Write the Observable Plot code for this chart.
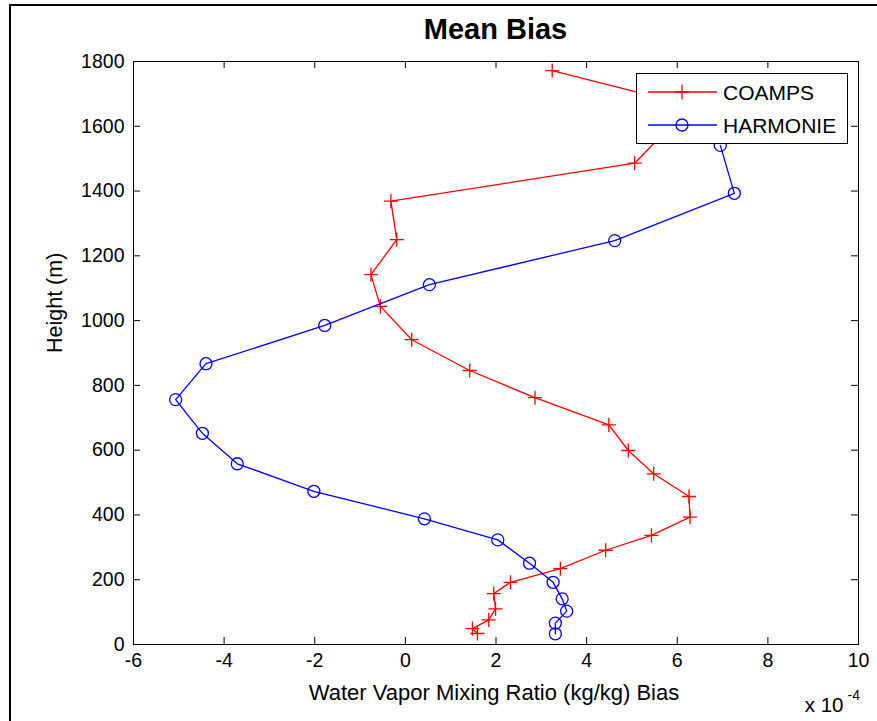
<!DOCTYPE html>
<html><head><meta charset="utf-8">
<script src="https://cdn.jsdelivr.net/npm/d3@7"></script>
<script src="https://cdn.jsdelivr.net/npm/@observablehq/plot@0.6"></script>
<style>
html,body{margin:0;padding:0;background:#fff;}
#fig{position:relative;width:877px;height:721px;background:#fff;font-family:"Liberation Sans",Arial,sans-serif;overflow:hidden;}
#title{height:55px;box-sizing:border-box;padding:4px 19px 0 133px;line-height:51px;text-align:center;font-size:29px;font-weight:bold;color:#000;}
#border{position:absolute;left:9px;top:4px;right:-4px;bottom:-4px;border-top:2px solid #000;border-left:2px solid #000;pointer-events:none;}
#legend{position:absolute;left:636px;top:73px;width:212px;height:71px;box-sizing:border-box;border:1px solid #000;background:#fff;}
#legend svg{display:block;}
</style></head>
<body>
<div id="fig">
  <div id="title">Mean Bias</div>
  <div id="chart"></div>
  <div id="legend"></div>
  <div id="border"></div>
</div>
<script>
// Values; bias in units of 1e-4 kg/kg, height in m
const coampsHeight = [34, 49, 76, 110, 157, 192, 234, 291, 337, 393, 457, 527, 599, 678, 762, 846, 941, 1044, 1142, 1250, 1369, 1486, 1664, 1772];
const coampsBias   = [1.59, 1.48, 1.84, 1.99, 1.95, 2.32, 3.42, 4.42, 5.43, 6.28, 6.26, 5.48, 4.92, 4.49, 2.86, 1.42, 0.14, -0.55, -0.76, -0.19, -0.32, 5.06, 6.29, 3.24];
const harmonieHeight = [33, 66, 103, 141, 192, 251, 323, 388, 473, 558, 652, 756, 867, 985, 1111, 1247, 1393, 1541];
const harmonieBias   = [3.31, 3.31, 3.56, 3.46, 3.26, 2.74, 2.04, 0.42, -2.02, -3.71, -4.48, -5.07, -4.40, -1.78, 0.53, 4.62, 7.26, 6.95];
const xTicks = [-6, -4, -2, 0, 2, 4, 6, 8, 10];
const yTicks = [0, 200, 400, 600, 800, 1000, 1200, 1400, 1600, 1800];
const seriesNames = ["COAMPS", "HARMONIE"];
const seriesColors = ["#ff0000", "#0000ff"];

const coamps = coampsHeight.map((h, i) => ({h, b: coampsBias[i]}));
const harmonie = harmonieHeight.map((h, i) => ({h, b: harmonieBias[i]}));

const W = 877, H = 666, mT = 6, mB = 77, mL = 133, mR = 19;
const plotW = W - mL - mR, plotH = H - mT - mB;
const fmt = d => String(d);

const chart = Plot.plot({
  width: W, height: H,
  marginTop: mT, marginBottom: mB, marginLeft: mL, marginRight: mR,
  style: {fontFamily: "'Liberation Sans', Arial, sans-serif", fontSize: "19.5px", background: "white", color: "black", overflow: "visible"},
  x: {domain: [-6, 10]},
  y: {domain: [0, 1800]},
  marks: [
    Plot.line(coamps, {x: "b", y: "h", stroke: seriesColors[0], strokeWidth: 1.3}),
    Plot.dot(coamps, {x: "b", y: "h", symbol: "plus", r: 4.6, stroke: seriesColors[0], strokeWidth: 1.3}),
    Plot.line(harmonie, {x: "b", y: "h", stroke: seriesColors[1], strokeWidth: 1.3}),
    Plot.dot(harmonie, {x: "b", y: "h", symbol: "circle", r: 6, fill: "none", stroke: seriesColors[1], strokeWidth: 1.3}),
    Plot.frame({stroke: "black", strokeWidth: 1}),
    Plot.tickX(xTicks, {x: d => d, insetTop: plotH - 7, stroke: "black"}),
    Plot.tickX(xTicks, {x: d => d, insetBottom: plotH - 7, stroke: "black"}),
    Plot.tickY(yTicks, {y: d => d, insetRight: plotW - 7, stroke: "black"}),
    Plot.tickY(yTicks, {y: d => d, insetLeft: plotW - 7, stroke: "black"}),
    Plot.axisX(xTicks, {tickSize: 0, tickPadding: 9, tickFormat: fmt, label: null, fontSize: 19.5}),
    Plot.axisY(yTicks, {tickSize: 0, tickPadding: 9, tickFormat: fmt, label: null, fontSize: 19.5}),
    Plot.text(["Water Vapor Mixing Ratio (kg/kg) Bias"], {frameAnchor: "bottom", lineAnchor: "bottom", dx: -2, dy: 55, fontSize: 22, fill: "black"}),
    Plot.text(["Height (m)"], {frameAnchor: "left", rotate: -90, lineAnchor: "middle", dx: -78, fontSize: 21.5, fill: "black"}),
    Plot.text(["x 10"], {frameAnchor: "bottom-right", textAnchor: "end", lineAnchor: "bottom", dx: -15, dy: 67, fontSize: 20.5, fill: "black"}),
    Plot.text(["-4"], {frameAnchor: "bottom-right", textAnchor: "start", lineAnchor: "bottom", dx: -11, dy: 55, fontSize: 14, fill: "black"})
  ]
});
document.getElementById("chart").appendChild(chart);

// Legend
const ns = "http://www.w3.org/2000/svg";
const lg = document.createElementNS(ns, "svg");
lg.setAttribute("width", 210); lg.setAttribute("height", 69);
const rows = [18, 51];
seriesNames.forEach((name, i) => {
  const y = rows[i], c = seriesColors[i];
  const line = document.createElementNS(ns, "line");
  line.setAttribute("x1", 11); line.setAttribute("x2", 80);
  line.setAttribute("y1", y); line.setAttribute("y2", y);
  line.setAttribute("stroke", c); line.setAttribute("stroke-width", 1.3);
  lg.appendChild(line);
  if (i === 0) {
    const p = document.createElementNS(ns, "path");
    p.setAttribute("d", `M38,${y}H52M45,${y - 7.5}V${y + 7.5}`);
    p.setAttribute("stroke", c); p.setAttribute("stroke-width", 1.3); p.setAttribute("fill", "none");
    lg.appendChild(p);
  } else {
    const ci = document.createElementNS(ns, "circle");
    ci.setAttribute("cx", 45); ci.setAttribute("cy", y); ci.setAttribute("r", 6);
    ci.setAttribute("stroke", c); ci.setAttribute("stroke-width", 1.3); ci.setAttribute("fill", "none");
    lg.appendChild(ci);
  }
  const t = document.createElementNS(ns, "text");
  t.setAttribute("x", 86); t.setAttribute("y", y + 7.5);
  t.setAttribute("font-size", 21); t.setAttribute("font-family", "'Liberation Sans', Arial, sans-serif");
  t.setAttribute("fill", "black");
  t.textContent = name;
  lg.appendChild(t);
});
document.getElementById("legend").appendChild(lg);
</script>
</body></html>
